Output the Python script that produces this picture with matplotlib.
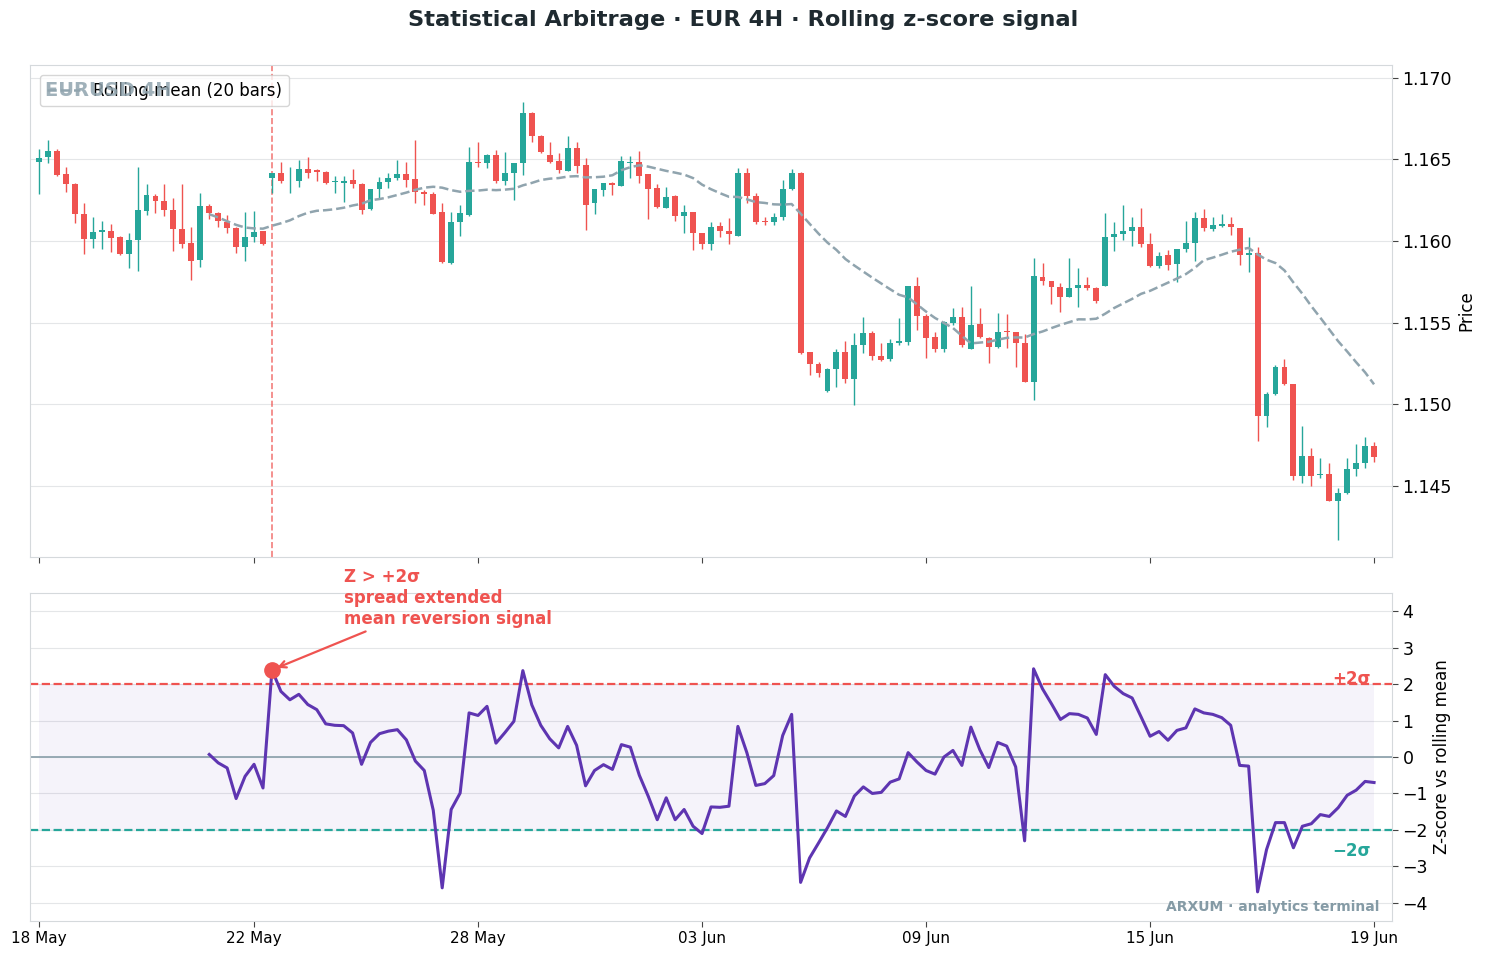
import numpy as np
import pandas as pd
import matplotlib
matplotlib.use("Agg")
import matplotlib.pyplot as plt

# EURUSD 4H candles, bar index 0..149 (weekends skipped)
bar_open = [
    1.16486, 1.16512, 1.16553, 1.16408, 1.16349, 1.16165, 1.16014, 1.16057, 1.16063, 1.16022,
    1.15922, 1.16004, 1.16186, 1.16276, 1.16243, 1.16188, 1.16071, 1.15986, 1.15882, 1.16212,
    1.16173, 1.16114, 1.16082, 1.15961, 1.16022, 1.16059, 1.16388, 1.16414, 1.16373, 1.16369,
    1.16439, 1.16435, 1.16420, 1.16361, 1.16353, 1.16371, 1.16349, 1.16194, 1.16316, 1.16359,
    1.16384, 1.16408, 1.16380, 1.16298, 1.16286, 1.16175, 1.15863, 1.16114, 1.16159, 1.16484,
    1.16476, 1.16524, 1.16369, 1.16414, 1.16476, 1.16782, 1.16645, 1.16527, 1.16488, 1.16431,
    1.16567, 1.16463, 1.16231, 1.16312, 1.16353, 1.16339, 1.16478, 1.16484, 1.16408, 1.16322,
    1.16204, 1.16276, 1.16155, 1.16175, 1.16047, 1.15980, 1.16090, 1.16061, 1.16033, 1.16414,
    1.16278, 1.16122, 1.16118, 1.16145, 1.16316, 1.16414, 1.15318, 1.15247, 1.15084, 1.15216,
    1.15318, 1.15157, 1.15361, 1.15435, 1.15298, 1.15275, 1.15373, 1.15382, 1.15724, 1.15543,
    1.15410, 1.15341, 1.15496, 1.15533, 1.15341, 1.15492, 1.15408, 1.15349, 1.15447, 1.15441,
    1.15377, 1.15139, 1.15782, 1.15755, 1.15716, 1.15659, 1.15712, 1.15729, 1.15710, 1.15727,
    1.16022, 1.16041, 1.16059, 1.16084, 1.15980, 1.15849, 1.15912, 1.15859, 1.15953, 1.15986,
    1.16139, 1.16073, 1.16090, 1.16104, 1.16078, 1.15914, 1.15924, 1.14931, 1.15063, 1.15226,
    1.15122, 1.14563, 1.14684, 1.14567, 1.14573, 1.14410, 1.14455, 1.14602, 1.14639, 1.14745,
]
bar_high = [
    1.16561, 1.16616, 1.16560, 1.16455, 1.16355, 1.16235, 1.16145, 1.16124, 1.16102, 1.16030,
    1.16051, 1.16451, 1.16351, 1.16286, 1.16351, 1.16265, 1.16349, 1.16088, 1.16296, 1.16224,
    1.16178, 1.16161, 1.16085, 1.16180, 1.16186, 1.16062, 1.16414, 1.16486, 1.16451, 1.16494,
    1.16512, 1.16439, 1.16428, 1.16396, 1.16396, 1.16443, 1.16352, 1.16318, 1.16394, 1.16418,
    1.16496, 1.16482, 1.16618, 1.16312, 1.16302, 1.16231, 1.16175, 1.16218, 1.16578, 1.16608,
    1.16531, 1.16557, 1.16543, 1.16480, 1.16853, 1.16792, 1.16648, 1.16608, 1.16537, 1.16645,
    1.16608, 1.16506, 1.16318, 1.16356, 1.16359, 1.16522, 1.16522, 1.16553, 1.16410, 1.16347,
    1.16333, 1.16279, 1.16220, 1.16178, 1.16050, 1.16118, 1.16118, 1.16143, 1.16449, 1.16449,
    1.16296, 1.16145, 1.16169, 1.16373, 1.16439, 1.16424, 1.15320, 1.15257, 1.15220, 1.15341,
    1.15390, 1.15435, 1.15537, 1.15449, 1.15373, 1.15398, 1.15527, 1.15724, 1.15777, 1.15553,
    1.15445, 1.15512, 1.15588, 1.15594, 1.15726, 1.15588, 1.15410, 1.15557, 1.15553, 1.15443,
    1.15431, 1.15894, 1.15863, 1.15757, 1.15741, 1.15894, 1.15833, 1.15780, 1.15720, 1.16169,
    1.16114, 1.16220, 1.16145, 1.16200, 1.16047, 1.15935, 1.15945, 1.15952, 1.16124, 1.16180,
    1.16194, 1.16145, 1.16163, 1.16149, 1.16080, 1.16022, 1.15961, 1.15078, 1.15241, 1.15275,
    1.15125, 1.14867, 1.14730, 1.14669, 1.14643, 1.14486, 1.14669, 1.14755, 1.14798, 1.14767,
]
bar_low = [
    1.16288, 1.16476, 1.16400, 1.16298, 1.16108, 1.15918, 1.15955, 1.15949, 1.15931, 1.15914,
    1.15833, 1.15818, 1.16157, 1.16171, 1.16153, 1.15937, 1.15955, 1.15761, 1.15841, 1.16133,
    1.16088, 1.16047, 1.15929, 1.15878, 1.15996, 1.15975, 1.16296, 1.16353, 1.16292, 1.16333,
    1.16384, 1.16365, 1.16349, 1.16296, 1.16237, 1.16322, 1.16163, 1.16190, 1.16261, 1.16327,
    1.16371, 1.16333, 1.16231, 1.16220, 1.16163, 1.15865, 1.15859, 1.16031, 1.16155, 1.16451,
    1.16445, 1.16357, 1.16343, 1.16251, 1.16404, 1.16608, 1.16540, 1.16476, 1.16418, 1.16428,
    1.16414, 1.16067, 1.16165, 1.16276, 1.16282, 1.16336, 1.16384, 1.16353, 1.16133, 1.16200,
    1.16201, 1.16122, 1.16047, 1.15945, 1.15951, 1.15945, 1.16027, 1.15980, 1.16030, 1.16231,
    1.16104, 1.16100, 1.16098, 1.16129, 1.16313, 1.15308, 1.15177, 1.15169, 1.15073, 1.15108,
    1.15128, 1.14996, 1.15312, 1.15271, 1.15268, 1.15268, 1.15365, 1.15362, 1.15455, 1.15282,
    1.15322, 1.15322, 1.15486, 1.15353, 1.15337, 1.15404, 1.15251, 1.15345, 1.15343, 1.15226,
    1.15135, 1.15026, 1.15731, 1.15612, 1.15563, 1.15657, 1.15594, 1.15700, 1.15620, 1.15725,
    1.15939, 1.16006, 1.15969, 1.15965, 1.15839, 1.15833, 1.15822, 1.15751, 1.15935, 1.15878,
    1.16061, 1.16063, 1.16084, 1.16037, 1.15853, 1.15808, 1.14777, 1.14859, 1.15060, 1.15120,
    1.14537, 1.14520, 1.14502, 1.14547, 1.14408, 1.14169, 1.14453, 1.14561, 1.14608, 1.14649,
]
bar_close = [
    1.16506, 1.16551, 1.16406, 1.16347, 1.16163, 1.16014, 1.16057, 1.16067, 1.16016, 1.15920,
    1.16004, 1.16188, 1.16280, 1.16245, 1.16188, 1.16071, 1.15984, 1.15880, 1.16212, 1.16173,
    1.16120, 1.16082, 1.15961, 1.16022, 1.16055, 1.15982, 1.16414, 1.16369, 1.16375, 1.16439,
    1.16418, 1.16425, 1.16353, 1.16365, 1.16367, 1.16347, 1.16190, 1.16316, 1.16359, 1.16386,
    1.16408, 1.16373, 1.16298, 1.16286, 1.16165, 1.15869, 1.16114, 1.16169, 1.16484, 1.16476,
    1.16527, 1.16369, 1.16414, 1.16476, 1.16782, 1.16645, 1.16543, 1.16482, 1.16435, 1.16567,
    1.16461, 1.16220, 1.16316, 1.16353, 1.16343, 1.16488, 1.16484, 1.16400, 1.16320, 1.16210,
    1.16271, 1.16155, 1.16175, 1.16047, 1.15980, 1.16084, 1.16061, 1.16041, 1.16414, 1.16278,
    1.16118, 1.16118, 1.16145, 1.16316, 1.16414, 1.15316, 1.15247, 1.15190, 1.15216, 1.15318,
    1.15157, 1.15361, 1.15435, 1.15298, 1.15271, 1.15373, 1.15386, 1.15724, 1.15543, 1.15408,
    1.15341, 1.15502, 1.15533, 1.15361, 1.15484, 1.15410, 1.15349, 1.15445, 1.15441, 1.15377,
    1.15135, 1.15786, 1.15755, 1.15716, 1.15659, 1.15712, 1.15729, 1.15710, 1.15635, 1.16022,
    1.16041, 1.16061, 1.16084, 1.15980, 1.15849, 1.15906, 1.15855, 1.15949, 1.15986, 1.16139,
    1.16078, 1.16096, 1.16104, 1.16084, 1.15914, 1.15929, 1.14931, 1.15063, 1.15226, 1.15122,
    1.14563, 1.14684, 1.14563, 1.14571, 1.14410, 1.14455, 1.14602, 1.14639, 1.14745, 1.14675,
]

# rolling z-score, first value at bar 19
z_start = 19
zscore = [
    0.07, -0.16, -0.30, -1.14, -0.53, -0.20, -0.85, 2.39, 1.80, 1.57,
    1.72, 1.44, 1.30, 0.91, 0.87, 0.86, 0.66, -0.20, 0.40, 0.64,
    0.71, 0.75, 0.47, -0.11, -0.37, -1.46, -3.59, -1.44, -0.99, 1.21,
    1.14, 1.39, 0.38, 0.67, 0.98, 2.37, 1.43, 0.87, 0.50, 0.25,
    0.84, 0.32, -0.79, -0.37, -0.21, -0.34, 0.34, 0.27, -0.50, -1.08,
    -1.72, -1.12, -1.72, -1.44, -1.90, -2.10, -1.37, -1.38, -1.35, 0.84,
    0.12, -0.78, -0.73, -0.51, 0.59, 1.17, -3.44, -2.77, -2.36, -1.94,
    -1.48, -1.63, -1.07, -0.82, -1.00, -0.97, -0.69, -0.60, 0.12, -0.14,
    -0.37, -0.47, 0.00, 0.18, -0.23, 0.82, 0.20, -0.29, 0.40, 0.30,
    -0.27, -2.30, 2.42, 1.87, 1.46, 1.03, 1.19, 1.17, 1.07, 0.62,
    2.26, 1.94, 1.74, 1.62, 1.10, 0.57, 0.70, 0.46, 0.73, 0.80,
    1.32, 1.21, 1.17, 1.08, 0.87, -0.23, -0.25, -3.70, -2.54, -1.80,
    -1.80, -2.49, -1.90, -1.83, -1.58, -1.63, -1.39, -1.05, -0.91, -0.67,
    -0.70,
]

tick_bars = [0, 24, 49, 74, 99, 124, 149]
tick_labels = ["18 May", "22 May", "28 May", "03 Jun", "09 Jun", "15 Jun", "19 Jun"]
signal_bar = 26
window = 20

UP = "#26a69a"
DOWN = "#ef5350"
PURPLE = "#5e35b1"
GREY = "#90a4ae"
SPINE = "#d5d9dc"
GRID = "#e4e6e8"

o = np.array(bar_open)
h = np.array(bar_high)
l = np.array(bar_low)
c = np.array(bar_close)
x = np.arange(len(c))
colors = np.where(c >= o, UP, DOWN)
roll_mean = pd.Series(c).rolling(window).mean()

fig = plt.figure(figsize=(14.87, 9.6), dpi=100)
ax1 = fig.add_axes([0.0202, 0.4198, 0.9159, 0.5125])
ax2 = fig.add_axes([0.0202, 0.0406, 0.9159, 0.3417], sharex=ax1)

# candles
ax1.vlines(x, l, h, color=colors, lw=1.0, zorder=2)
body_h = np.maximum(np.abs(c - o), 0.00003)
ax1.bar(x, body_h, bottom=np.minimum(o, c), width=0.66, color=colors, zorder=3)
ax1.plot(x, roll_mean, color=GREY, ls="--", lw=1.8, label="Rolling mean (20 bars)", zorder=4)
ax1.axvline(signal_bar, color=DOWN, ls="--", lw=1.2, alpha=0.75, zorder=1)

ax1.legend(loc="upper left", fontsize=12, framealpha=0.8, edgecolor="#cccccc",
           borderaxespad=0.6)
# watermark sits on top of the legend box
ax1.text(0.011, 0.949, "EURUSD 4H", transform=ax1.transAxes, ha="left", va="center",
         fontsize=14, fontweight="bold", color=GREY, alpha=0.85, zorder=10)

ax1.set_ylim(1.14066, 1.17077)
ax1.set_yticks([1.145, 1.150, 1.155, 1.160, 1.165, 1.170])
ax1.yaxis.set_major_formatter(matplotlib.ticker.FormatStrFormatter("%.3f"))
ax1.set_ylabel("Price", fontsize=12)

# z-score panel
zx = np.arange(z_start, z_start + len(zscore))
ax2.fill_between([x[0], x[-1]], -2, 2, color=PURPLE, alpha=0.06, lw=0, zorder=1)
ax2.axhline(0, color=GREY, lw=1.3, zorder=2)
ax2.axhline(2, color=DOWN, ls="--", lw=1.6, zorder=2)
ax2.axhline(-2, color=UP, ls="--", lw=1.6, zorder=2)
ax2.plot(zx, zscore, color=PURPLE, lw=2.2, zorder=3)
z_sig = zscore[signal_bar - z_start]
ax2.plot([signal_bar], [z_sig], "o", color=DOWN, ms=11, zorder=4)
ax2.annotate("Z > +2σ\nspread extended\nmean reversion signal", xy=(signal_bar, z_sig),
             xytext=(34, 3.55), ha="left", va="bottom", color=DOWN, fontsize=12,
             fontweight="bold", annotation_clip=False,
             arrowprops=dict(arrowstyle="->", color=DOWN, lw=1.6, shrinkB=4))
ax2.text(148.6, 2.15, "+2σ", ha="right", va="center", color=DOWN, fontsize=12, fontweight="bold")
ax2.text(148.6, -2.58, "\u22122σ", ha="right", va="center", color=UP, fontsize=12, fontweight="bold")
ax2.text(0.991, 0.043, "ARXUM · analytics terminal", transform=ax2.transAxes, ha="right",
         va="center", fontsize=10, fontweight="bold", color="#78909c", alpha=0.9)

ax2.set_ylim(-4.5, 4.5)
ax2.set_yticks(range(-4, 5))
ax2.yaxis.set_major_formatter(matplotlib.ticker.FuncFormatter(
    lambda v, p: f"{int(v)}".replace("-", "\u2212")))
ax2.set_ylabel("Z-score vs rolling mean", fontsize=12)

ax2.set_xlim(-1, 151)
ax2.set_xticks(tick_bars)
ax2.set_xticklabels(tick_labels)

for ax in (ax1, ax2):
    ax.yaxis.tick_right()
    ax.yaxis.set_label_position("right")
    ax.grid(axis="y", color=GRID, lw=0.8)
    ax.set_axisbelow(True)
    for s in ax.spines.values():
        s.set_color(SPINE)
    ax.tick_params(axis="y", labelsize=12.5, length=4, color="#444444")
    ax.tick_params(axis="x", labelsize=11, length=4, color="#444444")
plt.setp(ax1.get_xticklabels(), visible=False)

fig.suptitle("Statistical Arbitrage · EUR 4H · Rolling z-score signal", y=0.99,
             fontsize=16.2, fontweight="bold", color="#1f2a30")

fig.savefig("out.png", dpi=100)
